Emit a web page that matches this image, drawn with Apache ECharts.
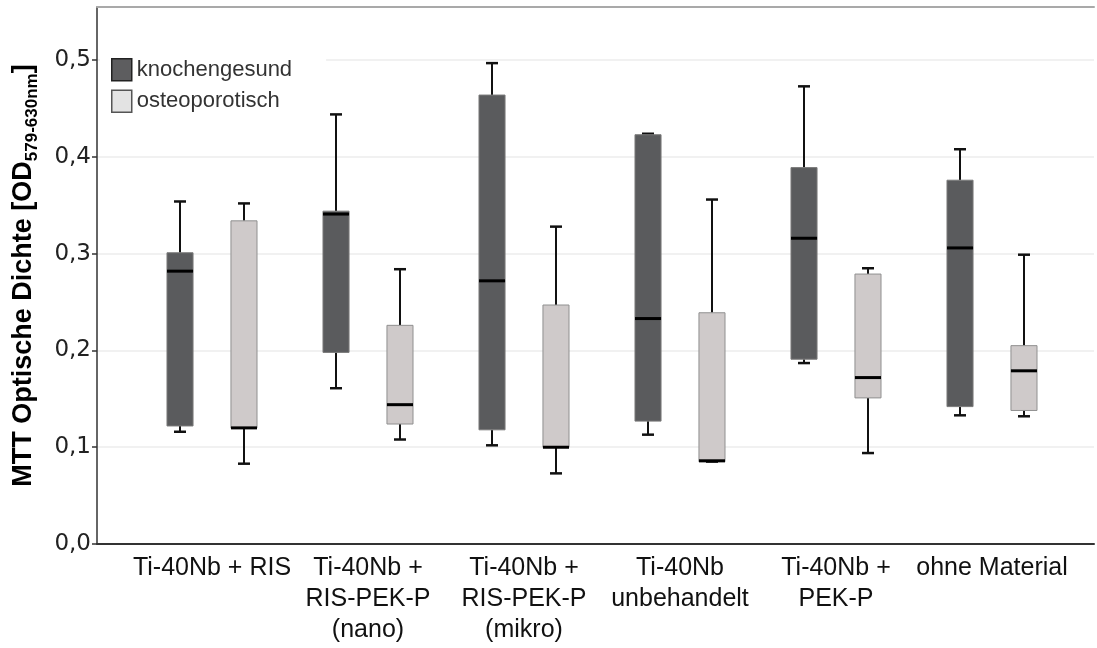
<!DOCTYPE html>
<html>
<head>
<meta charset="utf-8">
<script src="https://cdn.jsdelivr.net/npm/echarts@6/dist/echarts.min.js"></script>
<style>
html,body{margin:0;padding:0;background:#fff;overflow:hidden;}
#chart{width:1097px;height:648px;}
</style>
</head>
<body>
<div id="chart"></div>
<script>
// ---- data ----
const categories = [
  'Ti-40Nb + RIS',
  'Ti-40Nb +\nRIS-PEK-P\n(nano)',
  'Ti-40Nb +\nRIS-PEK-P\n(mikro)',
  'Ti-40Nb\nunbehandelt',
  'Ti-40Nb +\nPEK-P',
  'ohne Material'
];
// [min, Q1, median, Q3, max]
const knochengesund = [
  [0.116, 0.122, 0.282, 0.301, 0.354],
  [0.161, 0.198, 0.341, 0.344, 0.444],
  [0.102, 0.118, 0.272, 0.464, 0.497],
  [0.113, 0.127, 0.233, 0.423, 0.424],
  [0.187, 0.191, 0.316, 0.389, 0.473],
  [0.133, 0.142, 0.306, 0.376, 0.408]
];
const osteoporotisch = [
  [0.083, 0.120, 0.120, 0.334, 0.352],
  [0.108, 0.124, 0.144, 0.226, 0.284],
  [0.073, 0.100, 0.100, 0.247, 0.328],
  [0.085, 0.085, 0.086, 0.239, 0.356],
  [0.094, 0.151, 0.172, 0.279, 0.285],
  [0.132, 0.138, 0.179, 0.205, 0.299]
];
const yTickValues = [0, 0.1, 0.2, 0.3, 0.4, 0.5];
const seriesNames = ['knochengesund', 'osteoporotisch'];

// ---- rendering ----
const Y_MAX = 0.555;
const chart = echarts.init(document.getElementById('chart'), null, {renderer: 'canvas'});

function boxRenderer(offsetRatio, fill, border) {
  return function (params, api) {
    const cat = api.value(0);
    const band = api.size([1, 0])[0];
    const cx = api.coord([cat, 0])[0] + offsetRatio * band;
    const py = function (v) { return api.coord([cat, v])[1]; };
    const bw = band * 0.167;
    const cw = band * 0.077;
    const yMin = py(api.value(1)), yQ1 = py(api.value(2)), yMed = py(api.value(3)),
          yQ3 = py(api.value(4)), yMax = py(api.value(5));
    const wStyle = {stroke: '#111', lineWidth: 2};
    const cStyle = {stroke: '#111', lineWidth: 2.5};
    return {
      type: 'group',
      children: [
        {type: 'line', shape: {x1: cx, y1: yMax, x2: cx, y2: yQ3}, style: wStyle},
        {type: 'line', shape: {x1: cx, y1: yQ1, x2: cx, y2: yMin}, style: wStyle},
        {type: 'line', shape: {x1: cx - cw / 2, y1: yMax, x2: cx + cw / 2, y2: yMax}, style: cStyle},
        {type: 'line', shape: {x1: cx - cw / 2, y1: yMin, x2: cx + cw / 2, y2: yMin}, style: cStyle},
        {type: 'rect', shape: {x: cx - bw / 2, y: yQ3, width: bw, height: yQ1 - yQ3},
          style: {fill: fill, stroke: border, lineWidth: 1}},
        {type: 'line', shape: {x1: cx - bw / 2, y1: yMed, x2: cx + bw / 2, y2: yMed},
          style: {stroke: '#000', lineWidth: 3}}
      ]
    };
  };
}

const option = {
  backgroundColor: '#fff',
  animation: false,
  grid: [
    {left: 97, right: 3, top: 7, bottom: 104, show: false},
    {left: 134, right: 27, top: 7, bottom: 104, show: false}
  ],
  legend: {
    orient: 'vertical',
    left: 100,
    top: 52,
    z: 1,
    itemWidth: 20,
    itemHeight: 22,
    itemGap: 8,
    icon: 'rect',
    selectedMode: false,
    backgroundColor: '#fff',
    padding: [6, 34, 6, 11],
    textStyle: {fontSize: 22, fontFamily: "'Liberation Sans', Arial, sans-serif", color: '#333'},
    data: [
      {name: seriesNames[0], itemStyle: {color: '#5d5d5f', borderColor: '#222', borderWidth: 1.5}},
      {name: seriesNames[1], itemStyle: {color: '#e3e3e3', borderColor: '#555', borderWidth: 1.5}}
    ]
  },
  xAxis: [
    {
      type: 'category', gridIndex: 0, data: [''], boundaryGap: false, position: 'bottom',
      axisLine: {show: true, lineStyle: {color: '#333', width: 2}},
      axisTick: {show: false}, axisLabel: {show: false}, splitLine: {show: false}, splitArea: {show: false}
    },
    {
      type: 'category', gridIndex: 1, data: categories,
      axisLine: {show: false}, axisTick: {show: false}, splitLine: {show: false},
      axisLabel: {interval: 0, margin: 9, fontSize: 25, lineHeight: 31, color: '#111',
        fontFamily: "'Liberation Sans', Arial, sans-serif"}
    },
    {
      type: 'category', gridIndex: 0, data: [''], boundaryGap: false, position: 'top',
      axisLine: {show: true, onZero: false, lineStyle: {color: '#a9a9a9', width: 2}},
      axisTick: {show: false}, axisLabel: {show: false}, splitLine: {show: false}, splitArea: {show: false}
    }
  ],
  yAxis: [
    {
      type: 'value', gridIndex: 0, min: 0, max: Y_MAX, interval: 0.1,
      axisLine: {show: true, lineStyle: {color: '#333', width: 1.5}},
      axisTick: {show: true, length: 5, customValues: yTickValues, lineStyle: {color: '#333', width: 1.5}},
      axisLabel: {customValues: yTickValues, margin: 6, fontSize: 23, color: '#222',
        fontFamily: "'DejaVu Sans', sans-serif",
        formatter: function (v) { return v.toFixed(1).replace('.', ','); }},
      splitLine: {show: true, lineStyle: {color: '#ececec', width: 1.5}},
      name: '{a|MTT Optische Dichte [OD}{b|579-630nm}{a|]}',
      nameLocation: 'middle',
      nameGap: 56,
      nameTextStyle: {
        fontFamily: "'Liberation Sans', Arial, sans-serif", fontWeight: 'bold', color: '#000', fontSize: 27,
        rich: {
          a: {fontSize: 27, fontWeight: 'bold', lineHeight: 34, color: '#000', fontFamily: "'Liberation Sans', Arial, sans-serif"},
          b: {fontSize: 17, fontWeight: 'bold', lineHeight: 25, verticalAlign: 'bottom', color: '#000', fontFamily: "'Liberation Sans', Arial, sans-serif"}
        }
      }
    },
    {
      type: 'value', gridIndex: 1, min: 0, max: Y_MAX, show: false,
      splitLine: {show: false}
    }
  ],
  series: [
    {
      name: seriesNames[0], type: 'custom', xAxisIndex: 1, yAxisIndex: 1,
      itemStyle: {color: '#5d5d5f'},
      renderItem: boxRenderer(-0.205, '#5a5b5d', '#7a7a7a'),
      encode: {x: 0, y: [1, 2, 3, 4, 5]},
      data: knochengesund.map(function (d, i) { return [i].concat(d); })
    },
    {
      name: seriesNames[1], type: 'custom', xAxisIndex: 1, yAxisIndex: 1,
      itemStyle: {color: '#e3e3e3'},
      renderItem: boxRenderer(0.205, '#cfcaca', '#909090'),
      encode: {x: 0, y: [1, 2, 3, 4, 5]},
      data: osteoporotisch.map(function (d, i) { return [i].concat(d); })
    }
  ]
};
chart.setOption(option);
</script>
</body>
</html>
